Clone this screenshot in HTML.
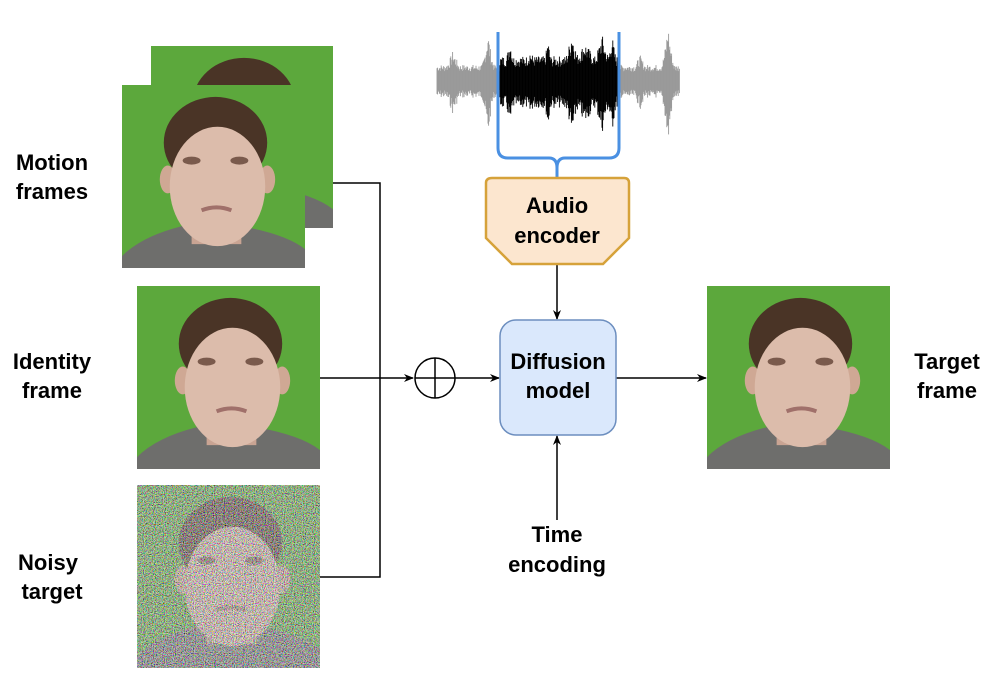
<!DOCTYPE html>
<html><head><meta charset="utf-8"><style>
body{margin:0;background:#fff;width:1004px;height:694px;overflow:hidden}
svg text{font-family:"Liberation Sans",Arial,sans-serif;font-weight:bold;font-size:22px;text-anchor:middle;fill:#000}
</style></head><body>
<svg width="1004" height="694" viewBox="0 0 1004 694" xmlns="http://www.w3.org/2000/svg">
<defs>
<symbol id="face" viewBox="0 0 184 184">
<rect width="184" height="184" fill="#5ca83c"/>
<path d="M0 172 Q20 152 60 142 L120 142 Q165 150 184 165 L184 184 L0 184Z" fill="#6e6e6c"/>
<rect x="70" y="120" width="50" height="40" fill="#c9a493"/>
<ellipse cx="94" cy="58" rx="52" ry="46" fill="#4a3426"/>
<ellipse cx="46" cy="95" rx="8" ry="14" fill="#cfa894"/>
<ellipse cx="146" cy="95" rx="8" ry="14" fill="#cfa894"/>
<ellipse cx="96" cy="102" rx="48" ry="60" fill="#dcbcab"/>
<ellipse cx="70" cy="76" rx="9" ry="4" fill="#7a5a4c"/>
<ellipse cx="118" cy="76" rx="9" ry="4" fill="#7a5a4c"/>
<path d="M80 126 Q95 120 110 126" stroke="#a0706a" stroke-width="4" fill="none"/>
</symbol>
<filter id="noise" x="0" y="0" width="100%" height="100%">
<feTurbulence type="fractalNoise" baseFrequency="0.9" numOctaves="2" seed="3"/>
<feColorMatrix type="matrix" values="3 0 0 0 -1  0 3 0 0 -1  0 0 3 0 -1  0 0 0 0 0.65"/>
</filter>
<marker id="ar" markerWidth="10" markerHeight="10" refX="9" refY="5" orient="auto" markerUnits="userSpaceOnUse"><path d="M0 1 L10 5 L0 9 L3 5Z" fill="#000"/></marker>
</defs>

<use href="#face" x="151" y="46" width="182" height="182"/>
<use href="#face" x="122" y="85" width="183" height="183"/>
<use href="#face" x="137" y="286" width="183" height="183"/>
<use href="#face" x="137" y="485" width="183" height="183"/>
<rect x="137" y="485" width="183" height="183" filter="url(#noise)"/>
<use href="#face" x="707" y="286" width="183" height="183"/>

<text x="52" y="170">Motion</text><text x="52" y="199">frames</text>
<text x="52" y="369">Identity</text><text x="52" y="398">frame</text>
<text x="48" y="570">Noisy</text><text x="52" y="599">target</text>
<text x="947" y="369">Target</text><text x="947" y="398">frame</text>
<text x="557" y="542">Time</text><text x="557" y="572">encoding</text>

<g stroke="#000" stroke-width="1.5" fill="none">
<path d="M333 183 H380 V577 H320"/>
<path d="M320 378 H413" marker-end="url(#ar)"/>
<circle cx="435" cy="378" r="20"/>
<path d="M415 378 H455 M435 358 V398"/>
<path d="M455 378 H499" marker-end="url(#ar)"/>
<path d="M616 378 H706" marker-end="url(#ar)"/>
<path d="M557 264 V319" marker-end="url(#ar)"/>
<path d="M557 520 V436" marker-end="url(#ar)"/>
</g>

<rect x="500" y="320" width="116" height="115" rx="16" fill="#dae8fc" stroke="#6c8ebf" stroke-width="1.5"/>
<text x="558" y="369">Diffusion</text><text x="558" y="398">model</text>

<g id="wave"></g>
<path d="M498 32 V148 Q498 158 508 158 H549 Q557 158 557 168 V178 M619 32 V148 Q619 158 609 158 H565 Q557 158 557 168" stroke="#4a90e2" stroke-width="3" fill="none"/>

<path d="M492 178 H624 Q629 178 629 183 V238 L603 264 H512 L486 238 V183 Q486 178 492 178Z" fill="#fce6cf" stroke="#d6a23a" stroke-width="2.5"/>
<text x="557" y="213">Audio</text><text x="557" y="243">encoder</text>
</svg>
<script>
(function(){
var g=document.getElementById('wave'),s='';var seed=7;function r(){seed=(seed*9301+49297)%233280;return seed/233280;}
function env(x){
 var e=(x>=500&&x<=619)?0.28:0.18;
 var peaks=[[453,0.35,10],[488,0.6,5],[510,0.5,6],[548,0.5,5],[572,0.6,8],[602,0.55,10],[612,0.55,6],[640,0.3,10],[668,0.68,5],[530,0.35,15],[585,0.45,20]];
 for(var i=0;i<peaks.length;i++){var p=peaks[i];e=Math.max(e,p[1]*Math.exp(-Math.abs(x-p[0])/p[2]));}
 return e;}
for(var x=437;x<=680;x+=0.6){var a=env(x)*(0.55+0.45*r())*100;var c=(x>=498&&x<=619)?'#000':'#999';
 s+='<line x1="'+x.toFixed(1)+'" x2="'+x.toFixed(1)+'" y1="'+(80-a*0.85).toFixed(1)+'" y2="'+(80+a).toFixed(1)+'" stroke="'+c+'" stroke-width="0.9"/>';}
g.innerHTML=s;})();
</script>
</body></html>
